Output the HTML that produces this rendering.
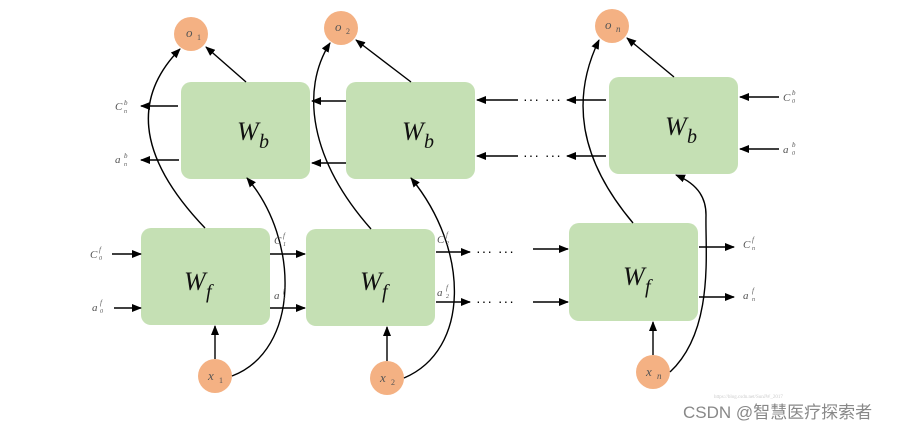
<!DOCTYPE html>
<html><head><meta charset="utf-8"><style>
html,body{margin:0;padding:0;background:#fff;width:909px;height:431px;overflow:hidden}
svg{display:block}
.l{font-family:"Liberation Serif",serif;font-style:italic;fill:#555}
.big{font-family:"Liberation Serif",serif;font-style:italic;fill:#111}
</style></head><body>
<svg width="909" height="431" viewBox="0 0 909 431">
<defs>
<marker id="a" markerWidth="10" markerHeight="8" refX="9" refY="4" orient="auto" markerUnits="userSpaceOnUse"><path d="M0,0 L10,4 L0,8 z" fill="#000"/></marker>
</defs>
<g fill="#c5e0b4">
<rect x="181" y="82" width="129" height="97" rx="10"/>
<rect x="346" y="82" width="129" height="97" rx="10"/>
<rect x="609" y="77" width="129" height="97" rx="10"/>
<rect x="141" y="228" width="129" height="97" rx="10"/>
<rect x="306" y="229" width="129" height="97" rx="10"/>
<rect x="569" y="223" width="129" height="98" rx="10"/>
</g>
<g fill="#f4b183">
<circle cx="191" cy="34" r="17"/><circle cx="341" cy="28" r="17"/><circle cx="612" cy="26" r="17"/>
<circle cx="215" cy="376" r="17"/><circle cx="387" cy="378" r="17"/><circle cx="653" cy="372" r="17"/>
</g>
<g stroke="#000" stroke-width="1.4" fill="none" marker-end="url(#a)">
<!-- Wb to o -->
<line x1="246" y1="82" x2="206" y2="47"/>
<line x1="411" y1="82" x2="356" y2="40"/>
<line x1="674" y1="77" x2="627" y2="38"/>
<!-- Wf to o -->
<path d="M205 228 C140 160,130 100,180 49"/>
<path d="M371 229 C310 160,300 90,330 43"/>
<path d="M633 223 C580 160,570 100,599 40"/>
<!-- x to Wb -->
<path d="M232 376 C300 350,300 240,247 178"/>
<path d="M404 378 C470 350,470 250,411 178"/>
<path d="M670 372 C715 330,705 250,706 215 C706 200,700 185,676 175"/>
<!-- x to Wf -->
<line x1="215" y1="359" x2="215" y2="326"/>
<line x1="387" y1="361" x2="387" y2="327"/>
<line x1="653" y1="355" x2="653" y2="322"/>
<!-- Wb horizontal -->
<line x1="178" y1="106" x2="141" y2="106"/>
<line x1="179" y1="160" x2="141" y2="160"/>
<line x1="346" y1="101" x2="312" y2="101"/>
<line x1="346" y1="163" x2="312" y2="163"/>
<line x1="518" y1="100" x2="477" y2="100"/>
<line x1="518" y1="156" x2="477" y2="156"/>
<line x1="606" y1="100" x2="567" y2="100"/>
<line x1="606" y1="156" x2="567" y2="156"/>
<line x1="779" y1="97" x2="740" y2="97"/>
<line x1="779" y1="149" x2="740" y2="149"/>
<!-- Wf horizontal -->
<line x1="112" y1="254" x2="141" y2="254"/>
<line x1="114" y1="308" x2="141" y2="308"/>
<line x1="270" y1="254" x2="305" y2="254"/>
<line x1="270" y1="308" x2="305" y2="308"/>
<line x1="436" y1="252" x2="470" y2="252"/>
<line x1="436" y1="302" x2="470" y2="302"/>
<line x1="533" y1="249" x2="568" y2="249"/>
<line x1="533" y1="302" x2="568" y2="302"/>
<line x1="699" y1="247" x2="734" y2="247"/>
<line x1="699" y1="297" x2="734" y2="297"/>
</g>
<g font-family="Liberation Sans,sans-serif" font-size="14" fill="#000" letter-spacing="1">
<text x="523" y="104">··· ···</text><text x="523" y="160">··· ···</text>
<text x="476" y="256">··· ···</text><text x="476" y="306">··· ···</text>
</g>
<g class="big" font-size="26">
<text x="237" y="140">W</text><text x="259" y="148" font-size="20">b</text>
<text x="402" y="140">W</text><text x="424" y="148" font-size="20">b</text>
<text x="665" y="135">W</text><text x="687" y="143" font-size="20">b</text>
<text x="184" y="290">W</text><text x="206" y="298" font-size="20">f</text>
<text x="360" y="290">W</text><text x="382" y="298" font-size="20">f</text>
<text x="623" y="285">W</text><text x="645" y="293" font-size="20">f</text>
</g>
<g class="l" font-size="13" fill="#222">
<text x="186" y="37">o</text><text x="197" y="40" font-size="8" font-style="normal">1</text>
<text x="335" y="31">o</text><text x="346" y="34" font-size="8" font-style="normal">2</text>
<text x="605" y="29">o</text><text x="616" y="32" font-size="9">n</text>
<text x="208" y="380">x</text><text x="219" y="383" font-size="8" font-style="normal">1</text>
<text x="380" y="382">x</text><text x="391" y="385" font-size="8" font-style="normal">2</text>
<text x="646" y="376">x</text><text x="657" y="379" font-size="9">n</text>
</g>
<g class="l" font-size="11">
<text x="115" y="110">C</text><text x="124" y="105" font-size="7">b</text><text x="124" y="113" font-size="6">n</text>
<text x="115" y="163">a</text><text x="124" y="158" font-size="7">b</text><text x="124" y="166" font-size="6">n</text>
<text x="783" y="101">C</text><text x="792" y="95" font-size="7">b</text><text x="792" y="103" font-size="6">0</text>
<text x="783" y="153">a</text><text x="792" y="147" font-size="7">b</text><text x="792" y="155" font-size="6">0</text>
<text x="90" y="258">C</text><text x="99" y="252" font-size="7">f</text><text x="99" y="260" font-size="6">0</text>
<text x="92" y="311">a</text><text x="100" y="305" font-size="7">f</text><text x="100" y="313" font-size="6">0</text>
<text x="274" y="244">C</text><text x="283" y="238" font-size="7">f</text><text x="283" y="246" font-size="6">1</text>
<text x="274" y="299">a</text><text x="283" y="293" font-size="7">f</text><text x="283" y="301" font-size="6">1</text>
<text x="437" y="243">C</text><text x="446" y="237" font-size="7">f</text><text x="446" y="245" font-size="6">2</text>
<text x="437" y="296">a</text><text x="446" y="290" font-size="7">f</text><text x="446" y="298" font-size="6">2</text>
<text x="743" y="248">C</text><text x="752" y="242" font-size="7">f</text><text x="752" y="250" font-size="6">n</text>
<text x="743" y="299">a</text><text x="752" y="293" font-size="7">f</text><text x="752" y="301" font-size="6">n</text>
</g>
<text x="714" y="398" font-family="Liberation Serif,serif" font-size="5" fill="#ccc">https://blog.csdn.net/SunJW_2017</text>
<text x="683" y="418" font-family="Liberation Sans,'Noto Sans CJK SC',sans-serif" font-size="17" fill="#888">CSDN @智慧医疗探索者</text>
</svg>
</body></html>
